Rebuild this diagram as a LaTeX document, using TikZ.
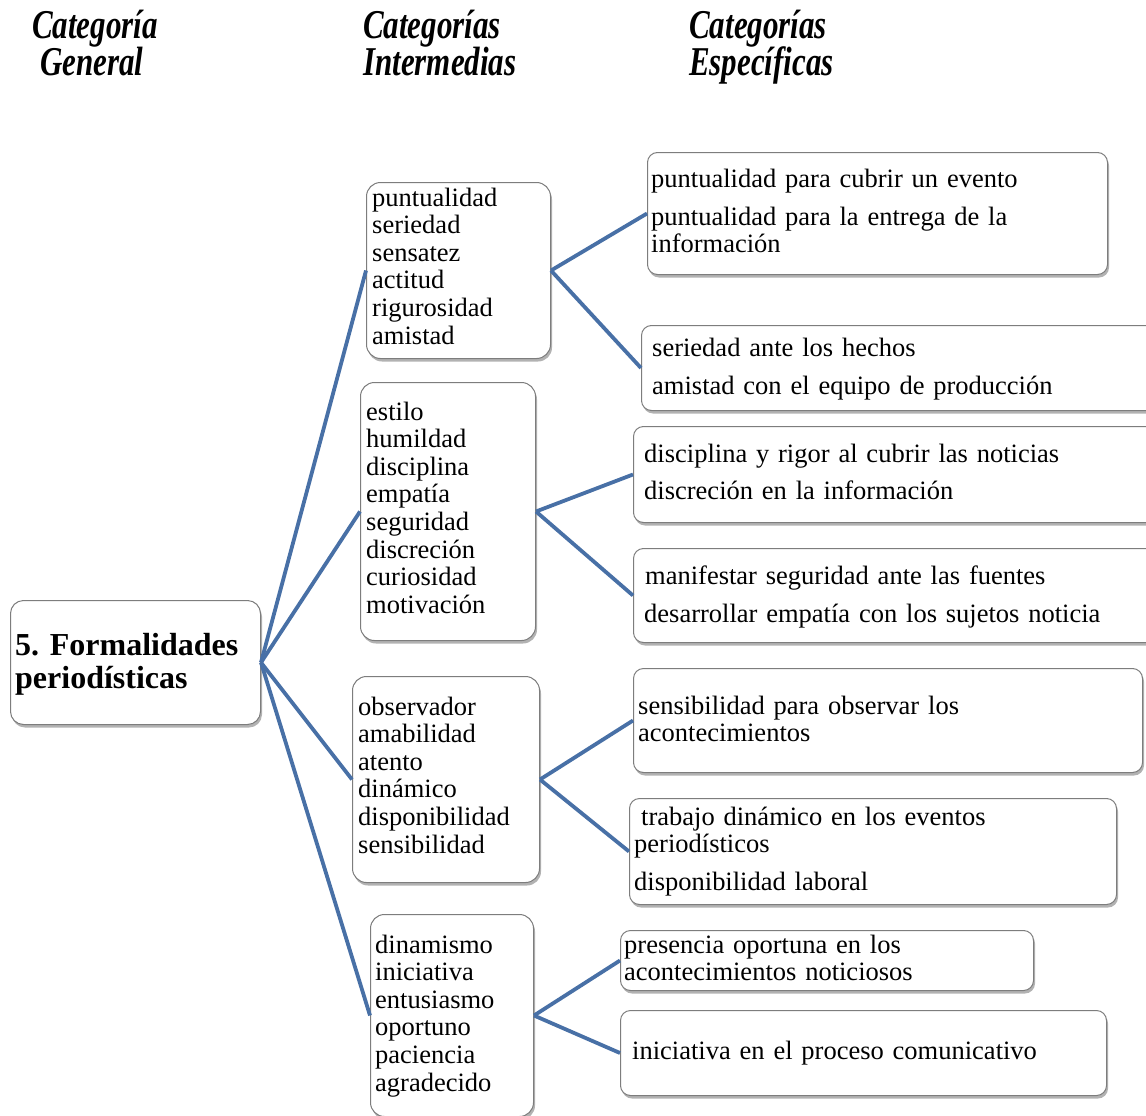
\documentclass[tikz,border=0pt]{standalone}
\usepackage{fontspec}
\setmainfont[WordSpace=0.85]{Liberation Serif}
\usetikzlibrary{shadows}
\frenchspacing

\definecolor{linkblue}{RGB}{72,112,166}
\definecolor{boxedge}{RGB}{125,125,125}

\tikzset{
  box/.style={draw=boxedge, line width=1pt, fill=white, rounded corners=10pt,
    anchor=north west, inner sep=0pt,
    drop shadow={shadow xshift=1.5pt, shadow yshift=-3pt, fill=black, opacity=0.3}},
  txt/.style={anchor=base west, inner sep=0pt, text width=520pt, align=left,
    font=\fontsize{26.5}{27.6}\selectfont},
  roottxt/.style={anchor=base west, inner sep=0pt, text width=240pt, align=left,
    font=\fontsize{32}{33}\selectfont\bfseries},
  head/.style={anchor=base west, inner sep=0pt,
    font=\fontsize{31}{31}\selectfont\bfseries\itshape},
  link/.style={draw=linkblue, line width=3.8pt},
}
\newcommand{\hd}[1]{\scalebox{1}[1.32]{#1}}

\begin{document}
\begin{tikzpicture}[x=1pt, y=-1pt]
\useasboundingbox (0,0) rectangle (1146,1116);
\clip (0,0) rectangle (1146,1116);

% column headings
\node[head] (h1a) at (32,39) {\hd{Categoría}};
\node[head] (h1b) at (40,76) {\hd{General}};
\node[head] (h2a) at (363,39) {\hd{Categorías}};
\node[head] (h2b) at (363,76) {\hd{Intermedias}};
\node[head] (h3a) at (689,39) {\hd{Categorías}};
\node[head] (h3b) at (689,76) {\hd{Específicas}};

% general category
\node[box, rounded corners=13pt, minimum width=250pt, minimum height=124pt] (root) at (10,600) {};
\node[roottxt] (root-t) at (15,655) {5. Formalidades\\periodísticas};

% intermediate categories
\node[box, rounded corners=14pt, minimum width=184pt, minimum height=176pt] (i1) at (366,182) {};
\node[txt] (i1-t) at (372,206) {puntualidad\\seriedad\\sensatez\\actitud\\rigurosidad\\amistad};

\node[box, rounded corners=14pt, minimum width=175pt, minimum height=258pt] (i2) at (360,382) {};
\node[txt] (i2-t) at (366,420) {estilo\\humildad\\disciplina\\empatía\\seguridad\\discreción\\curiosidad\\motivación};

\node[box, rounded corners=14pt, minimum width=187pt, minimum height=206pt] (i3) at (352,676) {};
\node[txt] (i3-t) at (358,715) {observador\\amabilidad\\atento\\dinámico\\disponibilidad\\sensibilidad};

\node[box, rounded corners=14pt, minimum width=163pt, minimum height=202pt] (i4) at (370,914) {};
\node[txt] (i4-t) at (375,953) {dinamismo\\iniciativa\\entusiasmo\\oportuno\\paciencia\\agradecido};

% specific categories
\node[box, minimum width=460pt, minimum height=122pt] (s1) at (647,152) {};
\node[txt] (s1-t) at (651,187) {puntualidad para cubrir un evento\\[10.4pt]puntualidad para la entrega de la\\información};

\node[box, minimum width=520pt, minimum height=85pt] (s2) at (641,325) {};
\node[txt] (s2-t) at (652,356) {seriedad ante los hechos\\[10.4pt]amistad con el equipo de producción};

\node[box, minimum width=530pt, minimum height=96pt] (s3) at (633,426) {};
\node[txt] (s3-t) at (644,462) {disciplina y rigor al cubrir las noticias\\[9.4pt]discreción en la información};

\node[box, minimum width=530pt, minimum height=94pt] (s4) at (633,548) {};
\node[txt] (s4-t) at (644,584) {\hspace{1pt}manifestar seguridad ante las fuentes\\[10.4pt]desarrollar empatía con los sujetos noticia};

\node[box, minimum width=509pt, minimum height=104pt] (s5) at (633,668) {};
\node[txt] (s5-t) at (638,714) {sensibilidad para observar los\\acontecimientos};

\node[box, minimum width=487pt, minimum height=106pt] (s6) at (629,798) {};
\node[txt] (s6-t) at (634,825) {\hspace{7pt}trabajo dinámico en los eventos\\periodísticos\\[10.4pt]disponibilidad laboral};

\node[box, minimum width=413pt, minimum height=60pt] (s7) at (620,930) {};
\node[txt] (s7-t) at (624,953) {presencia oportuna en los\\acontecimientos noticiosos};

\node[box, minimum width=486pt, minimum height=85pt] (s8) at (620,1010) {};
\node[txt] (s8-t) at (632,1059) {iniciativa en el proceso comunicativo};

% connectors
\foreach \t in {i1,i2,i3,i4}
  \draw[link] (root.east) -- (\t.west);
\draw[link] (i1.east) -- (s1.west);
\draw[link] (i1.east) -- (s2.west);
\draw[link] (i2.east) -- (s3.west);
\draw[link] (i2.east) -- (s4.west);
\draw[link] (i3.east) -- (s5.west);
\draw[link] (i3.east) -- (s6.west);
\draw[link] (i4.east) -- (s7.west);
\draw[link] (i4.east) -- (s8.west);
\end{tikzpicture}
\end{document}
